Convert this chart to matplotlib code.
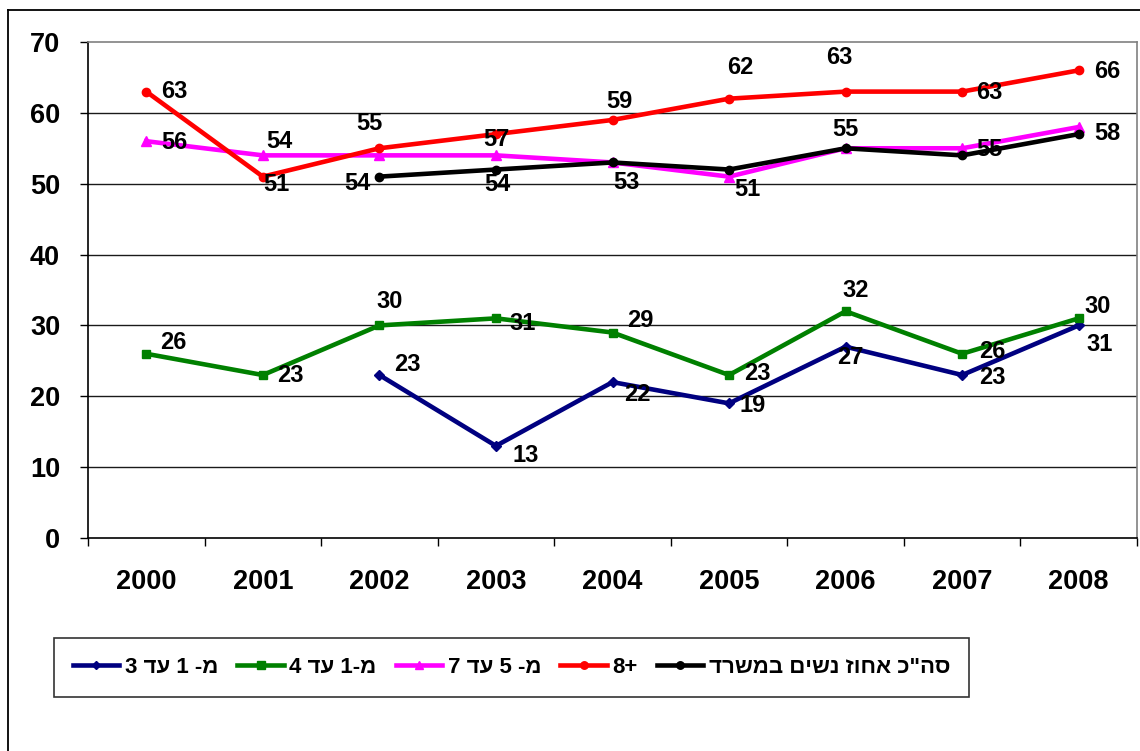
import numpy as np
import matplotlib
matplotlib.use("Agg")
import matplotlib.pyplot as plt
from matplotlib.lines import Line2D

plt.rcParams['font.family'] = ['Liberation Sans', 'DejaVu Sans']
plt.rcParams['font.weight'] = 'bold'

# ---------------- data ----------------
years = ["2000", "2001", "2002", "2003", "2004", "2005", "2006", "2007", "2008"]
nan = np.nan
s_1_3 = [nan, nan, 23, 13, 22, 19, 27, 23, 30]
s_1_4 = [26, 23, 30, 31, 29, 23, 32, 26, 31]
s_5_7 = [56, 54, 54, 54, 53, 51, 55, 55, 58]
s_8p = [63, 51, 55, 57, 59, 62, 63, 63, 66]
s_total = [nan, nan, 51, 52, 53, 52, 55, 54, 57]

names = ["מ- 1 עד 3", "מ-1 עד 4", "מ- 5 עד 7", "+8", 'סה"כ אחוז נשים במשרד']
y_ticks = [0, 10, 20, 30, 40, 50, 60, 70]

# ---------------- styles ----------------
colors = ["#000080", "#008000", "#FF00FF", "#FF0000", "#000000"]
markers = ["D", "s", "^", "o", "o"]
msizes = [5, 6, 7, 6, 6]
# label offsets in pixels (dx right, dy down) per point; None = no label
offs_1_3 = [None, None, (28, -11), (30, 10), (25, 12), (24, 2), (5, 11), (30, 2), (19, -19)]
offs_1_4 = [(27, -11), (28, 0), (10, -24), (27, 5), (28, -12), (28, -2), (10, -21), (30, -2), (21, 26)]
offs_5_7 = [(28, 1), (17, -14), (-22, 28), (1, 29), (14, 20), (18, 13), (0, -19), (27, 1), (29, 6)]
offs_8p = [(28, 0), (14, 8), (-10, -25), (0, 5), (7, -18), (11, -31), (-6, -34), (27, 1), (29, 1)]
offs_total = [None] * 9


def visual(s):
    """Convert logical-order Hebrew text to visual (LTR drawing) order."""
    r = s[::-1]
    out, run = [], ""
    for ch in r:
        if ch.isdigit():
            run += ch
        else:
            if run:
                out.append(run[::-1])
                run = ""
            out.append(ch)
    if run:
        out.append(run[::-1])
    return "".join(out)


W, H = 1140, 751
fig = plt.figure(figsize=(W / 100, H / 100), dpi=100)
ax = fig.add_axes([88 / W, 1 - 538 / H, (1137 - 88) / W, (538 - 42) / H])

x = np.arange(len(years))
series = [s_1_3, s_1_4, s_5_7, s_8p, s_total]
offsets = [offs_1_3, offs_1_4, offs_5_7, offs_8p, offs_total]
handles = []
for i, (vals, offs) in enumerate(zip(series, offsets)):
    ln, = ax.plot(x, vals, color=colors[i], lw=3.3, marker=markers[i],
                  markersize=msizes[i], zorder=3 + i, label=visual(names[i]),
                  solid_joinstyle='miter')
    handles.append(ln)
    for xi, v, o in zip(x, vals, offs):
        if o is None or np.isnan(v):
            continue
        ax.annotate(f"{int(v)}", (xi, v), xytext=(o[0] * 0.72, -o[1] * 0.72),
                    textcoords="offset points", ha="center", va="center",
                    fontsize=17, fontweight="bold", color="black", zorder=20)

ax.set_xlim(-0.5, len(years) - 0.5)
ax.set_ylim(0, 70)
ax.set_yticks(y_ticks)
ax.set_yticklabels([str(t) for t in y_ticks], fontsize=19.5, fontweight="bold")
ax.set_xticks(np.arange(-0.5, len(years), 1.0))
ax.set_xticklabels([])
ax.set_xticks(x, minor=True)
ax.set_xticklabels(years, minor=True, fontsize=19.5, fontweight="bold")
ax.tick_params(axis='x', which='major', direction='out', length=6, width=1, color='black')
ax.tick_params(axis='x', which='minor', length=0, pad=22)
ax.tick_params(axis='y', direction='out', length=6, width=1, color='black', pad=14)

for t in [10, 20, 30, 40, 50, 60]:
    ax.axhline(t, color='#1a1a1a', lw=1.0, zorder=1)

for sp in ['top', 'right']:
    ax.spines[sp].set_color('#808080')
    ax.spines[sp].set_linewidth(1.2)
for sp in ['left', 'bottom']:
    ax.spines[sp].set_color('black')
    ax.spines[sp].set_linewidth(1.2)

# outer chart border
fig.add_artist(Line2D([8 / W, 8 / W], [0, 1 - 10 / H], color='black', lw=1.3))
fig.add_artist(Line2D([8 / W, 1], [1 - 10 / H, 1 - 10 / H], color='black', lw=1.3))

leg = fig.legend(handles=handles, loc='center', bbox_to_anchor=(511.5 / W, 1 - 667.5 / H),
                 ncol=5, frameon=True, fancybox=False, shadow=False,
                 prop={'size': 16, 'weight': 'bold'}, handlelength=2.1,
                 handletextpad=0.25, columnspacing=0.85, borderpad=0.85,
                 markerscale=0.9)
leg.get_frame().set_edgecolor('black')
leg.get_frame().set_linewidth(1.2)

fig.savefig("out.png", dpi=100)
